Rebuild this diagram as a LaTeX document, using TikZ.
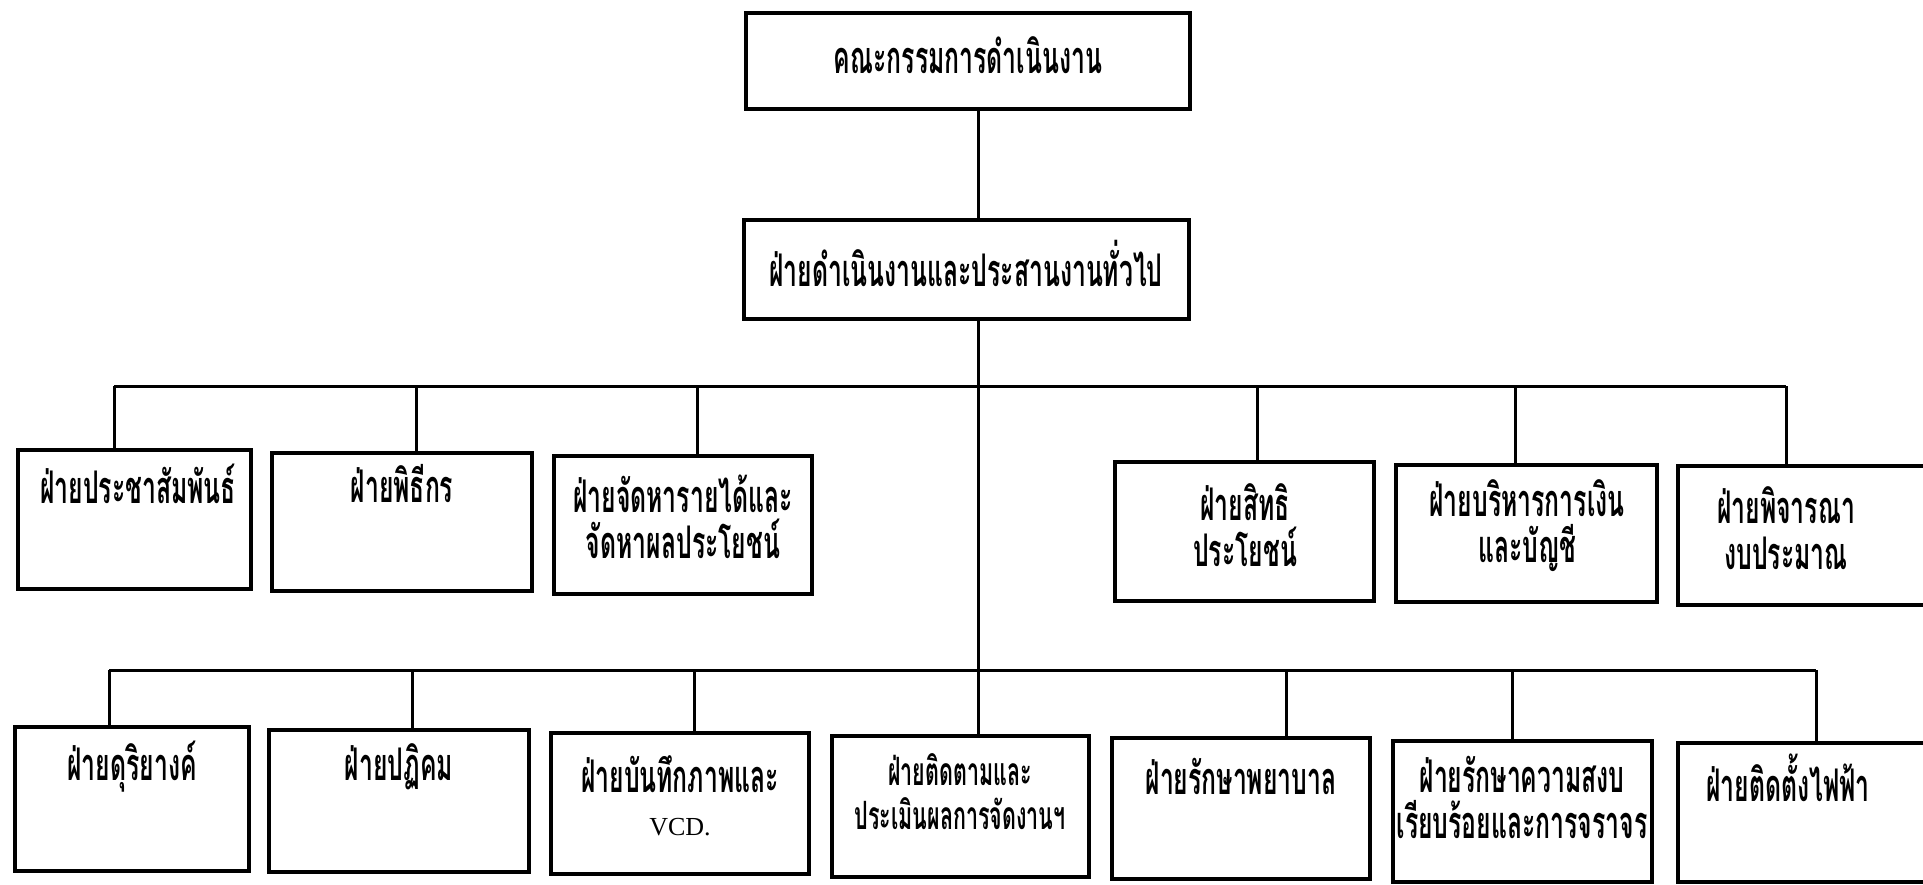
\documentclass[tikz,border=0pt]{standalone}
\usepackage{fontspec}
\newfontfamily\thai[Script=Thai,FakeStretch=0.55]{Loma}
\newfontfamily\vcdfont{Liberation Serif}
\newcommand\orgbox[5]{\node[box, minimum width={(#4-#2)*0.5pt}, minimum height={(#5-#3)*0.5pt}] (#1) at ({(#2+#4)/2},{(#3+#5)/2}) {};}
\begin{document}
\begin{tikzpicture}[x=0.5pt,y=-0.5pt,
  box/.style={draw,line width=1.75pt,inner sep=0pt},
  link/.style={line width=1.5pt},
  lbl/.style={font=\thai\bfseries\fontsize{22.5}{23}\selectfont, align=center, inner sep=0pt},
  lbls/.style={font=\thai\bfseries\fontsize{19.5}{22}\selectfont, align=center, inner sep=0pt}]
\useasboundingbox[fill=white] (0,0) rectangle (1923,884);
% boxes
\orgbox{top}{746}{13}{1190}{109}
\orgbox{gen}{744}{220}{1189}{319}
\orgbox{r1a}{18}{450}{251}{589}
\orgbox{r1b}{272}{453}{532}{591}
\orgbox{r1c}{554}{456}{812}{594}
\orgbox{r1d}{1115}{462}{1374}{601}
\orgbox{r1e}{1396}{465}{1657}{602}
\orgbox{r1f}{1678}{466}{1935}{605}
\orgbox{r2a}{15}{727}{249}{871}
\orgbox{r2b}{269}{730}{529}{872}
\orgbox{r2c}{551}{733}{809}{874}
\orgbox{r2d}{832}{736}{1089}{877}
\orgbox{r2e}{1112}{738}{1370}{879}
\orgbox{r2f}{1393}{741}{1652}{882}
\orgbox{r2g}{1678}{743}{1935}{882}
% labels
\node[lbl] (ttop) at (968,55) {คณะกรรมการดำเนินงาน};
\node[lbl] (tgen) at (966,263) {ฝ่ายดำเนินงานและประสานงานทั่วไป};
\node[lbl] (t1a) at (138,484) {ฝ่ายประชาสัมพันธ์};
\node[lbl] (t1b) at (402,484) {ฝ่ายพิธีกร};
\node[lbl] (t1c) at (683,517) {ฝ่ายจัดหารายได้และ\\จัดหาผลประโยชน์};
\node[lbl] (t1d) at (1245,525) {ฝ่ายสิทธิ\\ประโยชน์};
\node[lbl] (t1e) at (1527,526) {ฝ่ายบริหารการเงิน\\และบัญชี};
\node[lbl] (t1f) at (1786,528) {ฝ่ายพิจารณา\\งบประมาณ};
\node[lbl] (t2a) at (132,767) {ฝ่ายดุริยางค์};
\node[lbl] (t2b) at (399,767) {ฝ่ายปฏิคม};
\node[lbl] (t2c) at (680,774) {ฝ่ายบันทึกภาพและ};
\node[font=\vcdfont\fontsize{13}{15}\selectfont, inner sep=0pt] (t2cv) at (680,827) {VCD.};
\node[lbls] (t2d) at (960,792) {ฝ่ายติดตามและ\\ประเมินผลการจัดงานฯ};
\node[lbl] (t2e) at (1241,776) {ฝ่ายรักษาพยาบาล};
\node[lbl] (t2f) at (1522,797) {ฝ่ายรักษาความสงบ\\เรียบร้อยและการจราจร};
\node[lbl] (t2g) at (1788,778) {ฝ่ายติดตั้งไฟฟ้า};
% main trunk
\coordinate (m) at (978,0);
\draw[link] (top.south -| m) -- (gen.north -| m);
\draw[link] (gen.south -| m) -- (r2d.north -| m);
% row 1 bar
\coordinate (j1a) at (114,386);
\coordinate (j1b) at (416,386);
\coordinate (j1c) at (697,386);
\coordinate (j1d) at (1257,386);
\coordinate (j1e) at (1515,386);
\coordinate (j1f) at (1786,386);
\draw[link] (j1a) -- (j1f);
\foreach \k in {a,b,c,d,e,f} {\draw[link] (j1\k) -- (j1\k |- r1\k.north);}
% row 2 bar
\coordinate (j2a) at (109,670);
\coordinate (j2b) at (412,670);
\coordinate (j2c) at (694,670);
\coordinate (j2e) at (1286,670);
\coordinate (j2f) at (1512,670);
\coordinate (j2g) at (1816,670);
\draw[link] (j2a) -- (j2g);
\foreach \k in {a,b,c,e,f,g} {\draw[link] (j2\k) -- (j2\k |- r2\k.north);}
\end{tikzpicture}
\end{document}
